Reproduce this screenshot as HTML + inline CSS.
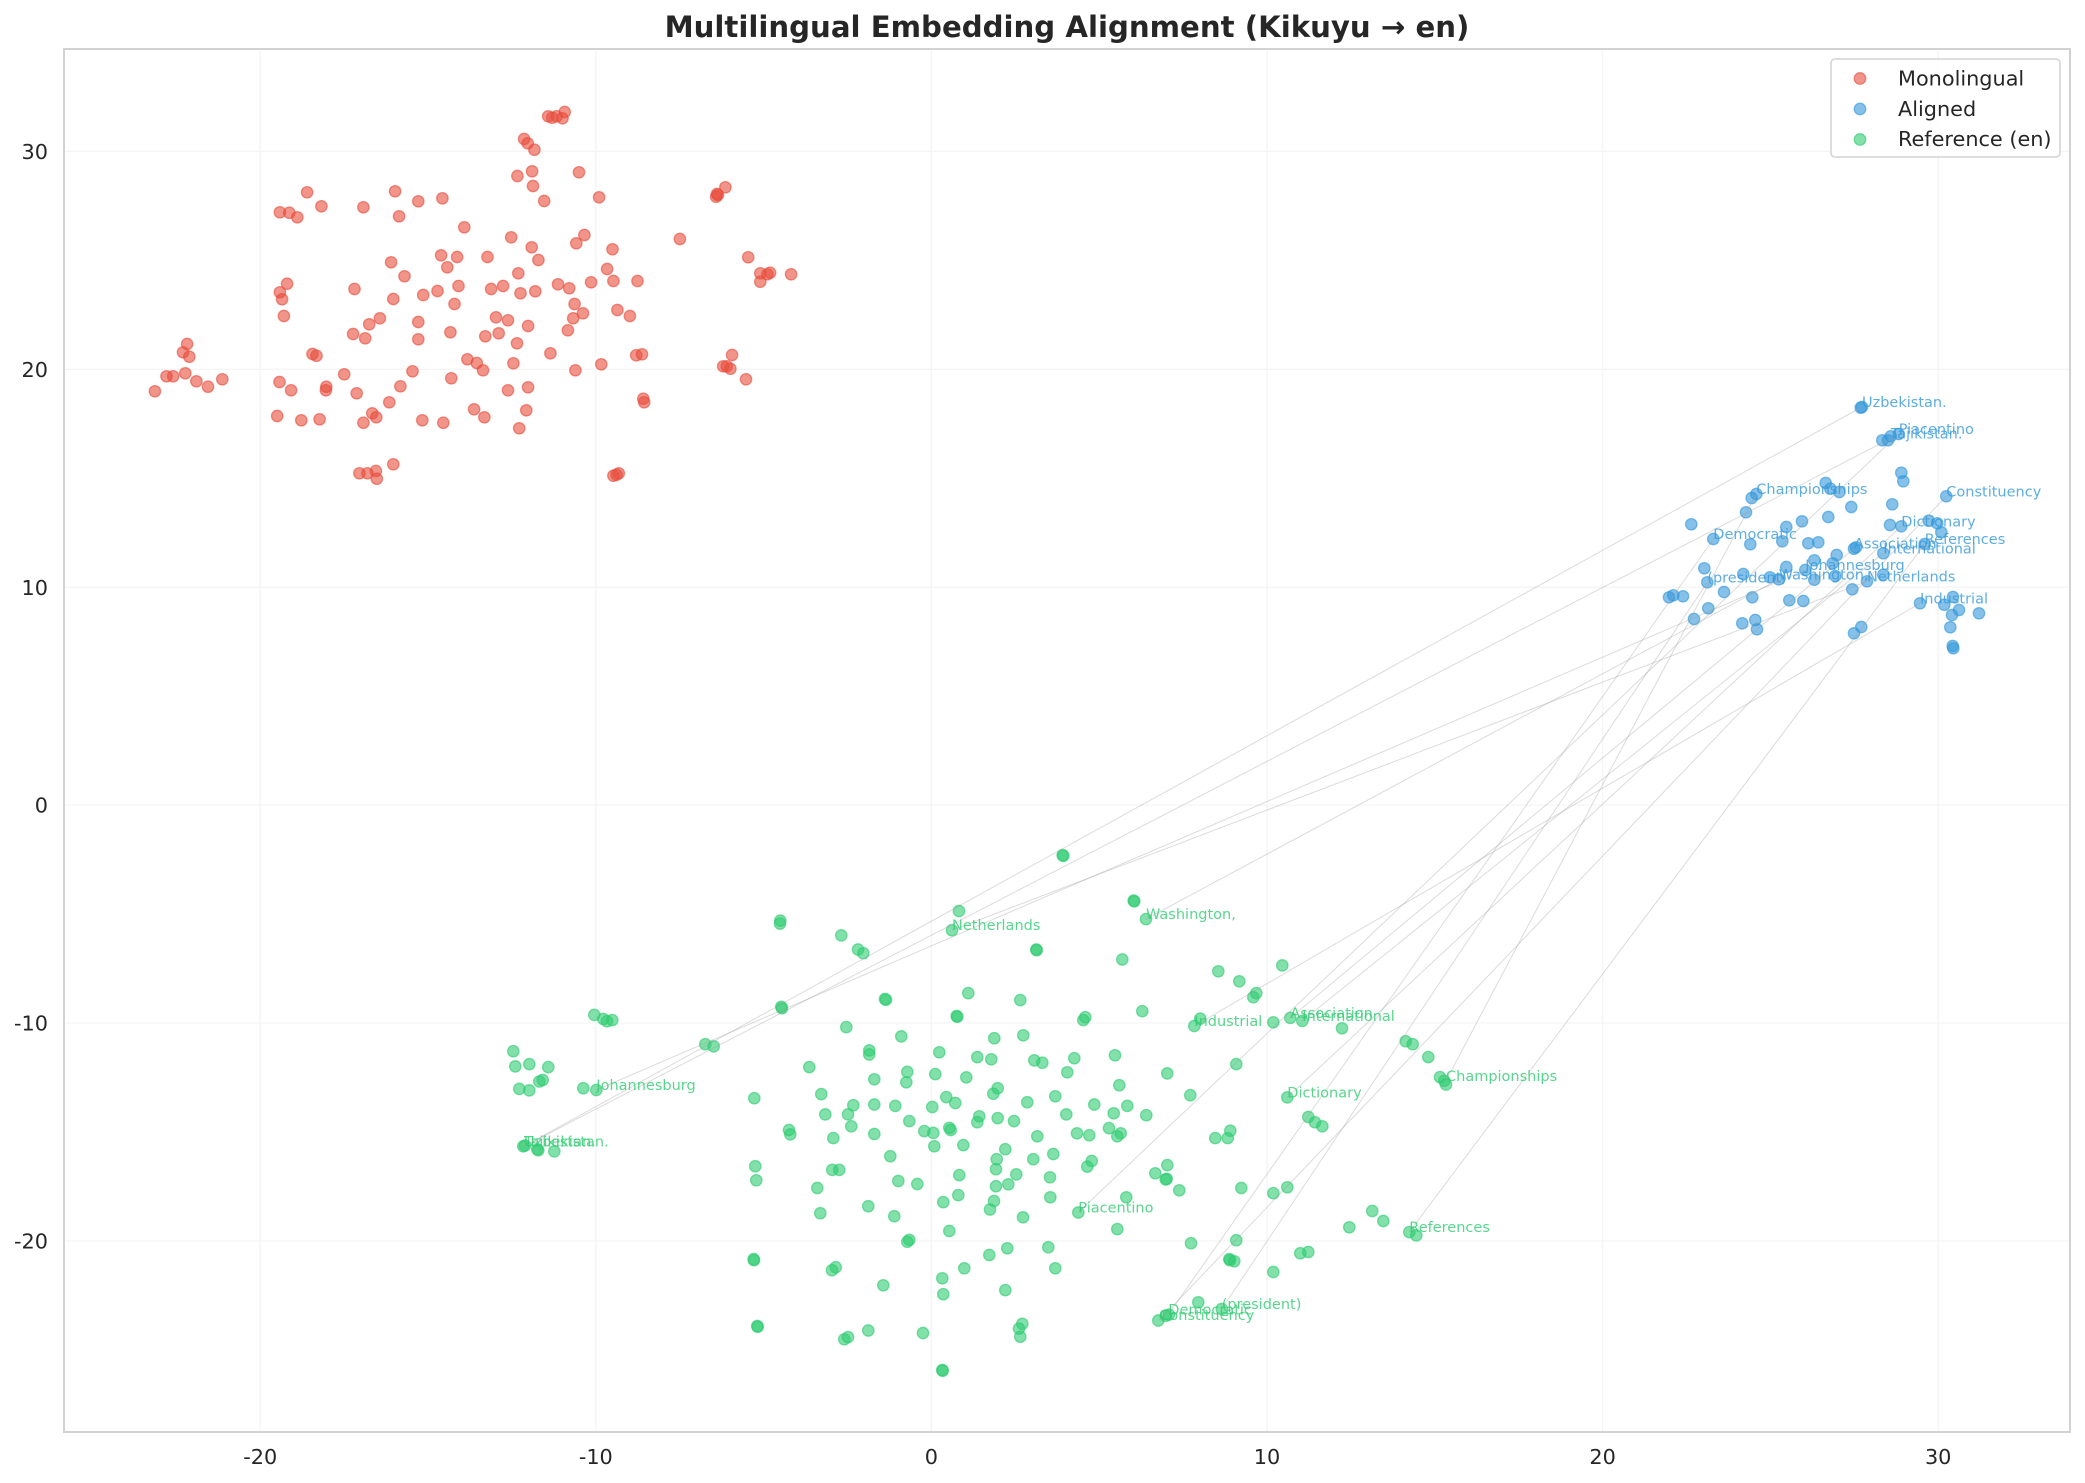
<!DOCTYPE html>
<html><head><meta charset="utf-8">
<style>
html,body{margin:0;padding:0;background:#fff;}
svg{display:block;}
text{font-family:"DejaVu Sans","Liberation Sans",sans-serif;}
</style></head>
<body>
<svg id="s" xmlns="http://www.w3.org/2000/svg" width="2085" height="1483" viewBox="0 0 2085 1483">
<rect x="0" y="0" width="2085" height="1483" fill="#ffffff"/>
<g id="grid" stroke="#f5f5f5" stroke-width="1.3">
<line x1="260.2" y1="49" x2="260.2" y2="1432"/>
<line x1="595.8" y1="49" x2="595.8" y2="1432"/>
<line x1="931.4" y1="49" x2="931.4" y2="1432"/>
<line x1="1267" y1="49" x2="1267" y2="1432"/>
<line x1="1602.6" y1="49" x2="1602.6" y2="1432"/>
<line x1="1938.2" y1="49" x2="1938.2" y2="1432"/>
<line x1="64" y1="1240.9" x2="2070" y2="1240.9"/>
<line x1="64" y1="1023" x2="2070" y2="1023"/>
<line x1="64" y1="805.1" x2="2070" y2="805.1"/>
<line x1="64" y1="587.2" x2="2070" y2="587.2"/>
<line x1="64" y1="369.3" x2="2070" y2="369.3"/>
<line x1="64" y1="151.4" x2="2070" y2="151.4"/>
</g>
<g id="pts"></g>
<g id="lines"></g>
<g id="labels"></g>
<rect x="64" y="49" width="2006" height="1383" fill="none" stroke="#d2d2d2" stroke-width="2"/>
<g fill="#262626" font-size="20.8">
<text x="260.2" y="1464" text-anchor="middle">-20</text>
<text x="595.8" y="1464" text-anchor="middle">-10</text>
<text x="931.4" y="1464" text-anchor="middle">0</text>
<text x="1267" y="1464" text-anchor="middle">10</text>
<text x="1602.6" y="1464" text-anchor="middle">20</text>
<text x="1938.2" y="1464" text-anchor="middle">30</text>
<text x="48" y="1248.5" text-anchor="end">-20</text>
<text x="48" y="1030.6" text-anchor="end">-10</text>
<text x="48" y="812.7" text-anchor="end">0</text>
<text x="48" y="594.8" text-anchor="end">10</text>
<text x="48" y="376.9" text-anchor="end">20</text>
<text x="48" y="159" text-anchor="end">30</text>
</g>
<text x="1067" y="37" text-anchor="middle" font-size="29.2" font-weight="bold" fill="#262626">Multilingual Embedding Alignment (Kikuyu → en)</text>
<g id="legend">
<rect x="1831" y="59" width="229" height="98" rx="4" ry="4" fill="#ffffff" fill-opacity="0.8" stroke="#d4d4d4" stroke-width="1.6"/>
<circle cx="1860" cy="78.5" r="5.8" fill="#e74c3c" fill-opacity="0.6" stroke="#e74c3c" stroke-opacity="0.6" stroke-width="1.3"/>
<circle cx="1860" cy="109" r="5.8" fill="#3498db" fill-opacity="0.6" stroke="#3498db" stroke-opacity="0.6" stroke-width="1.3"/>
<circle cx="1860" cy="139.5" r="5.8" fill="#2ecc71" fill-opacity="0.6" stroke="#2ecc71" stroke-opacity="0.6" stroke-width="1.3"/>
<g fill="#262626" font-size="20.8">
<text x="1898" y="85.5">Monolingual</text>
<text x="1898" y="116">Aligned</text>
<text x="1898" y="146">Reference (en)</text>
</g>
</g>
</svg>
<script>
(function(){
var Z={
 z1:[0,0,700/1568,1/3],
 z6:[600,0,700/1568,1/3],
 z5:[1650,370,1/3,1/3],
 z7:[480,820,1/3,580/1568],
 z8:[1000,820,1/3,580/1568]
};
var red1=[[1265,336],[1228,349],[1237,353],[1247,349],[1260,355],[1174,417],[1182,430],[1197,449],[1159,528],[1192,514],[1297,517],[1194,558],[688,577],[885,574],[720,619],[814,622],[937,604],[991,595],[1219,603],[1342,592],[627,637],[648,638],[666,652],[894,649],[1040,682],[1523,717],[1145,712],[1309,705],[1291,730],[1191,742],[1372,748],[988,766],[1024,771],[1092,771],[876,787],[1002,802],[1206,780],[1360,807],[906,829],[1161,820],[643,851],[627,877],[632,898],[794,867],[1027,858],[1100,867],[1127,858],[1166,880],[1199,874],[1250,853],[1275,865],[1324,847],[1374,843],[1428,843],[881,897],[948,885],[980,873],[1018,912],[1287,912],[636,948],[851,955],[827,973],[937,966],[1111,952],[1138,961],[1383,930],[1411,948],[1306,940],[1284,955],[1183,978],[1272,991],[791,1002],[818,1015],[937,1018],[1009,997],[1087,1009],[1117,1000],[1158,1030],[419,1032],[410,1057],[424,1070],[700,1062],[709,1067],[1233,1060],[1425,1066],[1438,1063],[1047,1078],[1068,1089],[1082,1111],[1150,1090],[1347,1093],[1289,1111],[373,1129],[388,1129],[415,1120],[347,1174],[440,1144],[466,1160],[498,1138],[626,1146],[652,1171],[731,1160],[730,1171],[771,1123],[799,1180],[924,1114],[1011,1135],[897,1159],[1138,1171],[1183,1162],[872,1207],[1441,1196],[1443,1207],[621,1248],[675,1261],[716,1258],[814,1268],[834,1240],[843,1252],[946,1261],[993,1268],[1062,1228],[1085,1252],[1179,1231],[1163,1285],[881,1393],[805,1420],[823,1420],[842,1413],[844,1436],[1374,1427],[1381,1424],[1386,1420]];
var red6=[[281,562],[262,582],[260,590],[264,585],[332,772],[359,820],[375,823],[381,818],[359,845],[428,823],[296,1065],[276,1099],[284,1099],[292,1106],[327,1138]];
var blue=[[636,111],[632,113],[697,211],[714,211],[722,199],[746,192],[754,308],[760,334],[527,339],[541,356],[568,366],[319,372],[305,384],[288,427],[889,379],[604,411],[727,403],[124,463],[456,454],[409,471],[535,441],[720,465],[754,469],[836,452],[862,460],[874,487],[190,507],[301,523],[397,514],[475,520],[505,517],[612,536],[618,532],[700,550],[560,555],[824,522],[493,571],[548,580],[163,595],[409,591],[466,600],[493,629],[556,618],[172,637],[280,612],[360,622],[386,628],[651,634],[700,614],[57,682],[70,676],[99,679],[222,666],[307,682],[607,658],[418,691],[460,693],[810,700],[883,704],[909,681],[927,720],[906,735],[987,730],[901,772],[908,828],[910,835],[175,715],[132,747],[277,760],[316,750],[321,778],[612,790],[634,771]];
var g7=[[901,272],[900,280],[1084,312],[1134,350],[1150,360],[1437,246],[1416,298],[1465,468],[1215,484],[1218,486],[1430,530],[1432,532],[904,505],[906,509],[343,527],[370,538],[381,544],[397,541],[676,606],[701,612],[1099,560],[1264,585],[1543,590],[1168,623],[1168,634],[1378,628],[1492,641],[1534,647],[100,625],[106,666],[148,660],[205,668],[178,707],[188,703],[118,727],[148,731],[310,725],[349,730],[988,668],[1282,681],[1279,709],[1183,701],[1366,687],[1459,696],[1540,740],[1553,725],[823,752],[1024,741],[1120,771],[1104,796],[1036,796],[1114,828],[1183,769],[1246,773],[1357,776],[1399,749],[1426,765],[1498,801],[1492,817],[1553,806],[1288,814],[927,838],[931,850],[1060,860],[1183,849],[1333,841],[1360,846],[1408,832],[1412,838],[1363,882],[1450,879],[130,882],[135,880],[172,890],[175,893],[223,896],[1231,909],[1550,917],[1548,944],[826,936],[829,974],[1057,946],[1078,946],[1012,995],[1255,976],[1312,984],[1438,960],[1548,990],[1435,1014],[1390,1033],[1542,1030],[1530,1053],[1165,1044],[1021,1063],[1243,1071],[1408,1111],[1282,1140],[1288,1135],[821,1187],[822,1190],[1067,1209],[1056,1217],[1210,1258],[1387,1239],[1390,1282],[1453,1212],[1528,1176],[832,1368],[833,1370],[1093,1404],[1104,1398],[1165,1380],[1329,1387],[1387,1487],[1388,1489]];
var g8=[[188,95],[190,97],[401,218],[403,220],[438,268],[109,350],[110,352],[367,377],[655,409],[718,436],[760,479],[769,468],[847,393],[61,487],[427,517],[250,541],[256,533],[583,557],[601,537],[820,547],[871,535],[907,543],[1026,563],[70,582],[1217,598],[1238,606],[1285,641],[1320,695],[1333,705],[1338,715],[103,650],[127,656],[223,644],[345,636],[202,682],[502,685],[709,660],[358,717],[166,747],[82,763],[283,769],[382,773],[341,793],[199,796],[439,798],[571,744],[862,750],[925,803],[945,817],[967,828],[42,814],[231,847],[268,852],[327,833],[352,855],[362,847],[112,855],[16,890],[646,860],[683,860],[691,840],[100,917],[160,903],[262,937],[275,922],[49,958],[150,966],[502,933],[466,955],[497,972],[500,970],[538,1001],[25,985],[724,995],[820,1009],[862,993],[151,1020],[379,1020],[235,1061],[69,1074],[352,1106],[1117,1057],[1150,1084],[1048,1101],[1228,1114],[1249,1123],[22,1158],[145,1155],[573,1144],[709,1136],[688,1187],[703,1193],[690,1190],[901,1171],[925,1168],[820,1222],[166,1212],[16,1271],[595,1304],[67,1362],[57,1375],[61,1397],[475,1353],[497,1340],[507,1337],[665,1322]];
var html="";
function add(list,z,c){
  for(var i=0;i<list.length;i++){
    var x=z[0]+list[i][0]*z[2], y=z[1]+list[i][1]*z[3];
    html+='<circle cx="'+x.toFixed(1)+'" cy="'+y.toFixed(1)+'" r="5.7" fill="'+c+'" fill-opacity="0.6" stroke="'+c+'" stroke-opacity="0.6" stroke-width="1.3"/>';
  }
}
add(red1,Z.z1,"#e74c3c");
add(red6,Z.z6,"#e74c3c");
add(blue,Z.z5,"#3498db");
add(g7,Z.z7,"#2ecc71");
add(g8,Z.z8,"#2ecc71");
document.getElementById("pts").innerHTML=html;
var pairs=[
 ["Johannesburg",596.3,1090,1805.3,570],
 ["Tajikistan.",524,1146.3,1890.7,438.3],
 ["Uzbekistan.",524,1146.3,1862,407],
 ["Netherlands",952,930.2,1867,581.3],
 ["Washington,",1146,919.1,1778.7,579.3],
 ["Industrial",1194.3,1026,1920,603.3],
 ["Association",1290.3,1017.9,1854,548.7],
 ["International",1302.3,1020.9,1883.3,553.3],
 ["Championships",1446,1080.8,1756.3,494],
 ["Dictionary",1287.3,1097.4,1901.3,526.3],
 ["Piacentino",1078.3,1212.5,1898.7,434],
 ["References",1409.3,1232.1,1924.7,544],
 ["(president)",1221.7,1309,1707.3,582.3],
 ["Democratic",1168.3,1314.6,1713.3,539],
 ["Constituency",1159.3,1320.1,1946.3,496.3]
];
var lh="",th="";
for(var j=0;j<pairs.length;j++){
  var p=pairs[j];
  lh+='<line x1="'+p[1]+'" y1="'+p[2]+'" x2="'+p[3]+'" y2="'+p[4]+'"/>';
  th+='<text x="'+p[1]+'" y="'+p[2]+'" fill="#2ecc71" fill-opacity="0.8">'+p[0]+'</text>';
  th+='<text x="'+p[3]+'" y="'+p[4]+'" fill="#3498db" fill-opacity="0.8">'+p[0]+'</text>';
}
var lg=document.getElementById("lines");
lg.setAttribute("stroke","#9a9a9a");lg.setAttribute("stroke-opacity","0.36");lg.setAttribute("stroke-width","1");
lg.innerHTML=lh;
var tg=document.getElementById("labels");
tg.setAttribute("font-size","14.5");
tg.innerHTML=th;
})();
</script>
</body></html>
